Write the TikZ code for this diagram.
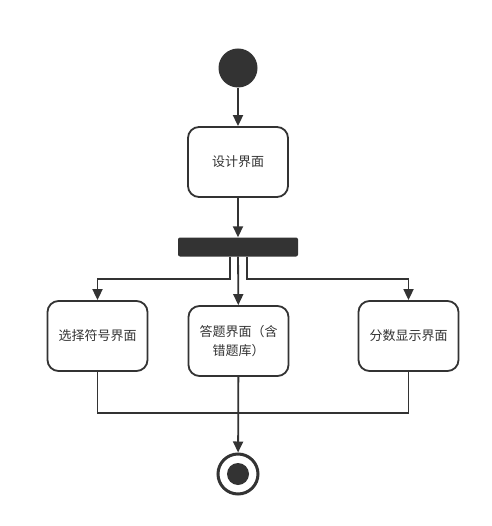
\documentclass[tikz,border=0pt]{standalone}
\usepackage{fontspec}
\newfontfamily\cjk{Noto Sans CJK SC}
\usetikzlibrary{arrows.meta}
\definecolor{ink}{HTML}{333333}
\begin{document}
\begin{tikzpicture}[x=1pt,y=-1pt,
  actbox/.style={draw=ink, line width=1.8pt, rounded corners=11pt, fill=white,
    minimum width=100pt, minimum height=70pt, inner sep=0pt, align=center,
    font=\cjk\fontsize{13}{19}\selectfont, text=ink},
  conn/.style={draw=ink, line width=1.8pt},
  arr/.style={conn, -{Triangle[length=11pt,width=10pt]}}]
\useasboundingbox (0,0) rectangle (491,526);
\node[circle, fill=ink, minimum size=39pt, inner sep=0pt] (start) at (238,68) {};
\node[actbox] (design) at (238,162) {设计界面};
\node[fill=ink, rounded corners=2pt, minimum width=120pt, minimum height=19pt, inner sep=0pt] (fork) at (238,247) {};
\node[actbox] (left) at (97.5,336) {选择符号界面};
\node[actbox] (mid) at (238.5,341) {答题界面（含\\错题库）};
\node[actbox] (right) at (408.5,336) {分数显示界面};
\node[circle, draw=ink, line width=3pt, fill=white, minimum size=40pt, inner sep=0pt] (final) at (238,474) {};
\node[circle, fill=ink, minimum size=22pt, inner sep=0pt] (finalin) at (final.center) {};
\draw[arr] (start) -- (design);
\draw[arr] (design) -- (fork);
\draw[arr] (fork) -- (mid);
\draw[arr] ([xshift=-8pt]fork.south) -- ++(0,22) -| (left.north);
\draw[arr] ([xshift=9pt]fork.south) -- ++(0,22) -| (right.north);
\draw[conn] (left.south) -- ++(0,41) -| (right.south);
\draw[arr] (mid) -- (final);
\end{tikzpicture}
\end{document}
